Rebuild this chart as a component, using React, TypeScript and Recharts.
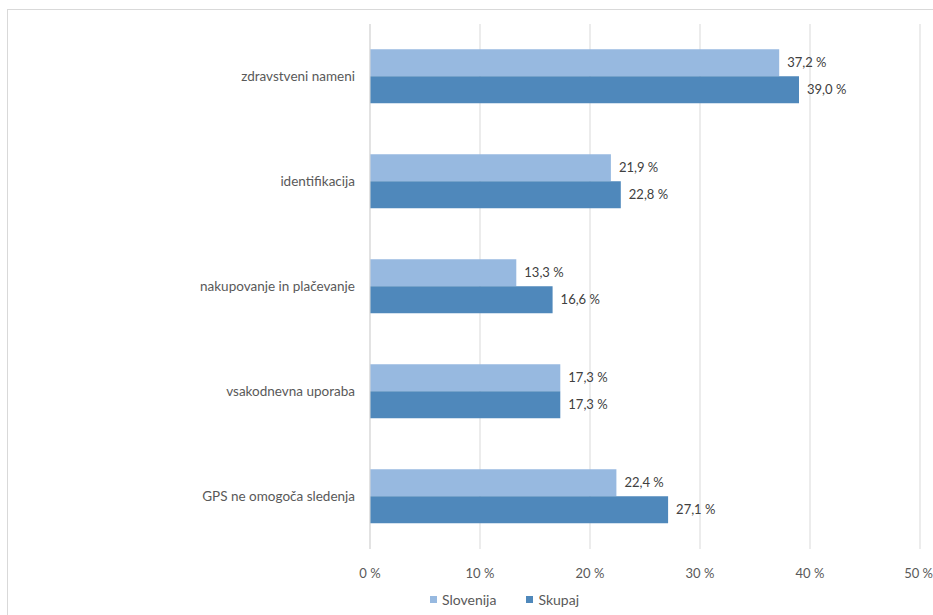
import React from 'react';
import { BarChart, Bar, XAxis, YAxis, CartesianGrid, Legend, LabelList } from 'recharts';

const categories = [
  'zdravstveni nameni',
  'identifikacija',
  'nakupovanje in plačevanje',
  'vsakodnevna uporaba',
  'GPS ne omogoča sledenja',
];
const slovenija = [37.2, 21.9, 13.3, 17.3, 22.4];
const skupaj = [39.0, 22.8, 16.6, 17.3, 27.1];
const xTicks = [0, 10, 20, 30, 40, 50];
const seriesNames = ['Slovenija', 'Skupaj'];
const seriesColors = ['#97b9e0', '#4f88bb'];

const data = categories.map((name, i) => ({ name, slovenija: slovenija[i], skupaj: skupaj[i] }));

const font = 'Lato, "Open Sans", sans-serif';
const fmt = (v: number) => `${v.toFixed(1).replace('.', ',')} %`;

const LegendBox = () => (
  <div style={{ display: 'flex', alignItems: 'center', marginLeft: 430, height: 28, fontFamily: font, fontSize: 14, color: '#595959' }}>
    {seriesNames.map((n, i) => (
      <div key={n} style={{ display: 'flex', alignItems: 'center', marginRight: 18 }}>
        <span style={{ display: 'inline-block', width: 7, height: 7, background: seriesColors[i], marginRight: 5 }} />
        <span>{n}</span>
        {i === 0 && <span style={{ width: 12 }} />}
      </div>
    ))}
  </div>
);

export default function App() {
  return (
    <div style={{ position: 'fixed', left: 0, top: 0, width: 933, height: 615, overflow: 'hidden', background: '#fff', fontFamily: font }}>
      <div style={{ position: 'absolute', left: 7, top: 9, width: 960, height: 640, border: '1px solid #d9d9d9' }} />
      <div style={{ position: 'absolute', left: 0, top: 0 }}>
        <BarChart
          width={933}
          height={615}
          data={data}
          layout="vertical"
          margin={{ top: 24, right: 13, left: 8, bottom: 0 }}
          barCategoryGap="24%"
          barGap={0}
        >
          <CartesianGrid horizontal={false} stroke="#d9d9d9" />
          <XAxis
            type="number"
            domain={[0, 50]}
            ticks={xTicks}
            tickFormatter={(v: number) => `${v} %`}
            axisLine={false}
            tickLine={false}
            tickMargin={14}
            height={36}
            tick={{ fill: '#595959', fontSize: 13, fontFamily: font }}
          />
          <YAxis
            type="category"
            dataKey="name"
            width={362}
            axisLine={{ stroke: '#d9d9d9' }}
            tickLine={false}
            tickMargin={9}
            tick={{ fill: '#595959', fontSize: 13.5, fontFamily: font }}
          />
          <Legend
            verticalAlign="bottom"
            height={30}
            content={() => <LegendBox />}
            wrapperStyle={{ left: 0, width: 933 }}
          />
          <Bar dataKey="slovenija" name="Slovenija" fill={seriesColors[0]} isAnimationActive={false}>
            <LabelList dataKey="slovenija" position="right" offset={8} formatter={(v: any) => fmt(Number(v))} style={{ fill: '#404040', fontSize: 13, fontFamily: font }} />
          </Bar>
          <Bar dataKey="skupaj" name="Skupaj" fill={seriesColors[1]} isAnimationActive={false}>
            <LabelList dataKey="skupaj" position="right" offset={8} formatter={(v: any) => fmt(Number(v))} style={{ fill: '#404040', fontSize: 13, fontFamily: font }} />
          </Bar>
        </BarChart>
      </div>
    </div>
  );
}
